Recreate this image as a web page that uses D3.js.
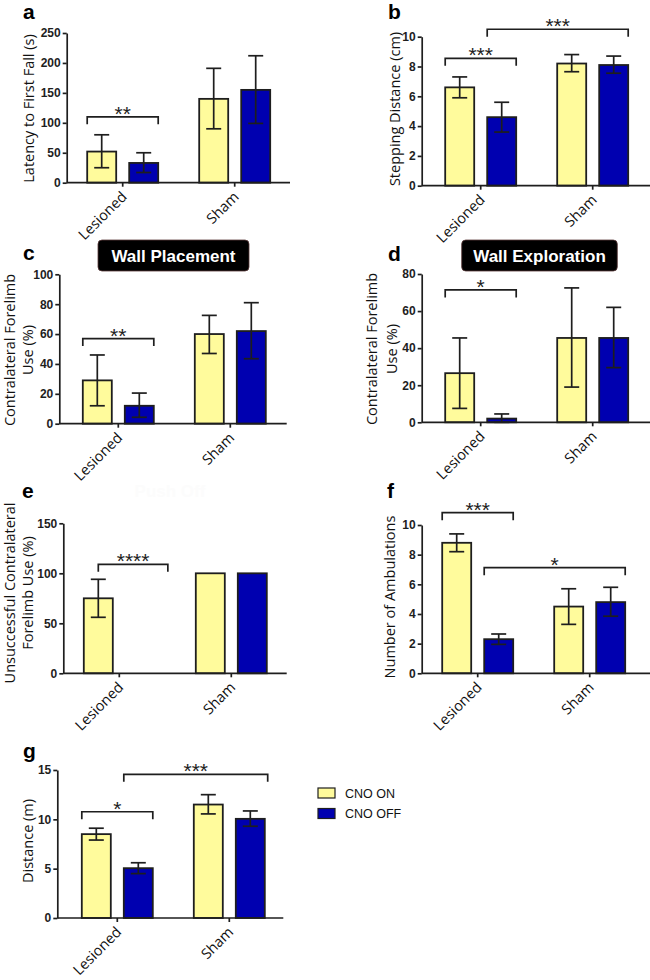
<!DOCTYPE html>
<html>
<head>
<meta charset="utf-8">
<script src="https://cdn.jsdelivr.net/npm/d3@7"></script>
<style>
  body { margin: 0; background: #fff; }
  svg { display: block; }
</style>
</head>
<body>
<svg id="fig" width="650" height="980"></svg>
<script>
const groups = ["Lesioned", "Sham"];
const conditions = ["CNO ON", "CNO OFF"];

// bar order: Lesioned ON, Lesioned OFF, Sham ON, Sham OFF
// a - latency to first fall
const latencyMean = [52, 33, 140, 155];
const latencyLow = [25, 17, 90, 99];
const latencyHigh = [80, 50, 191, 212];
const latencyTicks = [0, 50, 100, 150, 200, 250];

// b - stepping distance
const steppingMean = [6.6, 4.6, 8.2, 8.1];
const steppingLow = [5.9, 3.6, 7.65, 7.55];
const steppingHigh = [7.3, 5.6, 8.8, 8.7];
const steppingTicks = [0, 2, 4, 6, 8, 10];

// c - wall placement
const placementMean = [29, 12, 60, 62];
const placementLow = [12, 4.3, 47, 43.5];
const placementHigh = [46, 20.5, 72.5, 81];
const placementTicks = [0, 20, 40, 60, 80, 100];

// d - wall exploration
const explorationMean = [26.5, 2, 45.5, 45.5];
const explorationLow = [7.5, 0, 19, 29.5];
const explorationHigh = [45.5, 4.5, 72.5, 62];
const explorationTicks = [0, 20, 40, 60, 80];

// e - push off
const pushMean = [75, 0, 100, 100];
const pushLow = [56, 0, 100, 100];
const pushHigh = [94, 0, 100, 100];
const pushTicks = [0, 50, 100, 150];

// f - ambulations
const ambulationMean = [8.8, 2.3, 4.5, 4.8];
const ambulationLow = [8.2, 1.95, 3.3, 3.85];
const ambulationHigh = [9.4, 2.65, 5.7, 5.8];
const ambulationTicks = [0, 2, 4, 6, 8, 10];

// g - distance
const distanceMean = [8.5, 5.05, 11.5, 10.05];
const distanceLow = [7.9, 4.5, 10.55, 9.3];
const distanceHigh = [9.1, 5.6, 12.5, 10.85];
const distanceTicks = [0, 5, 10, 15];

// significance brackets: from/to bar index + position across the bar (0 left, 1 right)
const latencySig = [{from: 0, fromAt: 0, to: 1, toAt: 1, y: 110, label: "**"}];
const steppingSig = [
  {from: 0, fromAt: 0, to: 1, toAt: 1, y: 8.55, label: "***"},
  {from: 1, fromAt: 0, to: 3, toAt: 1, y: 10.5, label: "***"}
];
const placementSig = [{from: 0, fromAt: 0, to: 1, toAt: 1, y: 57, label: "**"}];
const explorationSig = [{from: 0, fromAt: 0, to: 1, toAt: 1, y: 71.4, label: "*"}];
const pushSig = [{from: 0, fromAt: 0.5, to: 1, toAt: 1.45, y: 109, label: "****"}];
const ambulationSig = [
  {from: 0, fromAt: 0, to: 1, toAt: 1, y: 10.83, label: "***"},
  {from: 1, fromAt: 0, to: 3, toAt: 1, y: 7.12, label: "*"}
];
const distanceSig = [
  {from: 0, fromAt: 0, to: 1, toAt: 1, y: 10.77, label: "*"},
  {from: 1, fromAt: 0, to: 3, toAt: 1.1, y: 14.56, label: "***"}
];

const fillColors = ["#FFFB9C", "#0000B0"];
const ink = "#1e1e1e";

const svg = d3.select("#fig");

const panels = [
  {letter: "a", lx: 23, ly: 18.5, mean: latencyMean, low: latencyLow, high: latencyHigh, ticks: latencyTicks, sig: latencySig,
   yMax: 250, left: 66.7, pad: 0, xEnd: 290, bottom: 182.7, top: 33,
   title: ["Latency to First Fall (s)"], tx: [29], ty: 108.5},
  {letter: "b", lx: 388, ly: 18.5, mean: steppingMean, low: steppingLow, high: steppingHigh, ticks: steppingTicks, sig: steppingSig,
   yMax: 10, left: 421.7, pad: 3, xEnd: 650, bottom: 185.7, top: 36.7,
   title: ["Stepping Distance (cm)"], tx: [395], ty: 109},
  {letter: "c", lx: 23, ly: 260, mean: placementMean, low: placementLow, high: placementHigh, ticks: placementTicks, sig: placementSig,
   yMax: 100, left: 59.3, pad: 3, xEnd: 286.7, bottom: 423.7, top: 274.3,
   title: ["Contralateral Forelimb", "Use (%)"], tx: [10, 28], ty: 350,
   box: {text: "Wall Placement", x: 98, y: 240, w: 151, h: 31}},
  {letter: "d", lx: 388, ly: 261, mean: explorationMean, low: explorationLow, high: explorationHigh, ticks: explorationTicks, sig: explorationSig,
   yMax: 80, left: 421.7, pad: 3, xEnd: 650, bottom: 422.3, top: 274,
   title: ["Contralateral Forelimb", "Use (%)"], tx: [371.7, 391.7], ty: 349,
   box: {text: "Wall Exploration", x: 461.7, y: 240, w: 155.6, h: 31}},
  {letter: "e", lx: 22, ly: 498, mean: pushMean, low: pushLow, high: pushHigh, ticks: pushTicks, sig: pushSig,
   yMax: 150, left: 63.3, pad: 0, xEnd: 286.7, bottom: 673.3, top: 523.3,
   title: ["Unsuccessful Contralateral", "Forelimb Use (%)"], tx: [10, 28], ty: 593,
   ghost: {text: "Push Off", x: 170, y: 497}},
  {letter: "f", lx: 387, ly: 498, mean: ambulationMean, low: ambulationLow, high: ambulationHigh, ticks: ambulationTicks, sig: ambulationSig,
   yMax: 10, left: 421.7, pad: 0, xEnd: 650, bottom: 673.3, top: 525,
   title: ["Number of Ambulations"], tx: [390], ty: 597},
  {letter: "g", lx: 23, ly: 758, mean: distanceMean, low: distanceLow, high: distanceHigh, ticks: distanceTicks, sig: distanceSig,
   yMax: 15, left: 57.3, pad: 4, xEnd: 283.3, bottom: 918, top: 770,
   title: ["Distance (m)"], tx: [28], ty: 841}
];

panels.forEach(drawPanel);

function drawPanel(p) {
  const g = svg.append("g");
  const y = d3.scaleLinear().domain([0, p.yMax]).range([p.bottom, p.top]);
  const x0 = d3.scaleBand().domain(groups).range([p.left + p.pad, p.left + p.pad + 224]);
  const x1 = d3.scaleBand().domain(conditions).range([20.5, 91.5]).paddingInner(13 / 42);
  const bw = x1.bandwidth();

  const bars = p.mean.map((v, i) => ({
    group: groups[Math.floor(i / 2)],
    cond: conditions[i % 2],
    ci: i % 2,
    value: v, low: p.low[i], high: p.high[i]
  }));
  const barX = i => x0(bars[i].group) + x1(bars[i].cond);

  // bars
  g.selectAll("rect.bar")
    .data(bars.filter(d => d.value > 0))
    .join("rect")
    .attr("class", "bar")
    .attr("x", d => x0(d.group) + x1(d.cond))
    .attr("y", d => y(d.value))
    .attr("width", bw)
    .attr("height", d => y(0) - y(d.value))
    .attr("fill", d => fillColors[d.ci])
    .attr("stroke", ink)
    .attr("stroke-width", 1.8);

  // error bars
  const eb = g.selectAll("g.err")
    .data(bars.filter(d => d.high > d.low))
    .join("g")
    .attr("class", "err")
    .attr("transform", d => `translate(${x0(d.group) + x1(d.cond) + bw / 2},0)`)
    .attr("stroke", ink)
    .attr("stroke-width", 1.7);
  eb.append("line").attr("y1", d => y(d.low)).attr("y2", d => y(d.high));
  eb.append("line").attr("x1", -7.5).attr("x2", 7.5).attr("y1", d => y(d.high)).attr("y2", d => y(d.high));
  eb.append("line").attr("x1", -7.5).attr("x2", 7.5).attr("y1", d => y(d.low)).attr("y2", d => y(d.low));

  // y axis
  const ya = g.append("g")
    .attr("transform", `translate(${p.left},0)`)
    .call(d3.axisLeft(y).tickValues(p.ticks).tickSize(4).tickSizeOuter(0).tickPadding(2).tickFormat(d3.format("d")));
  ya.selectAll("path, line").attr("stroke", ink).attr("stroke-width", 1.7);
  ya.selectAll("text")
    .attr("fill", ink)
    .attr("font-family", "'Liberation Sans', Arial, sans-serif")
    .attr("font-weight", "bold")
    .attr("font-size", 12);

  // x axis
  const xa = g.append("g")
    .attr("transform", `translate(0,${p.bottom})`)
    .call(d3.axisBottom(x0).tickSize(4).tickSizeOuter(0));
  xa.select(".domain").remove();
  xa.append("line")
    .attr("x1", p.left).attr("x2", p.xEnd)
    .attr("stroke", ink).attr("stroke-width", 1.7);
  xa.selectAll(".tick line").attr("stroke", ink).attr("stroke-width", 1.7);
  xa.selectAll(".tick text")
    .attr("x", 0).attr("y", 0).attr("dy", null)
    .attr("transform", "translate(5,15) rotate(-45)")
    .attr("text-anchor", "end")
    .attr("fill", "#111")
    .attr("font-family", "'Open Sans', sans-serif")
    .attr("font-size", 14.5);

  // brackets
  p.sig.forEach(s => {
    const xa1 = barX(s.from) + s.fromAt * bw;
    const xa2 = barX(s.to) + s.toAt * bw;
    const yy = y(s.y);
    g.append("path")
      .attr("d", `M${xa1},${yy + 7.5}V${yy}H${xa2}V${yy + 7.5}`)
      .attr("fill", "none")
      .attr("stroke", ink)
      .attr("stroke-width", 1.7);
    g.append("text")
      .attr("x", (xa1 + xa2) / 2)
      .attr("y", yy + 4)
      .attr("text-anchor", "middle")
      .attr("font-family", "'Liberation Sans', Arial, sans-serif")
      .attr("font-size", 21)
      .attr("fill", ink)
      .text(s.label);
  });

  // y title
  p.title.forEach((t, i) => {
    g.append("text")
      .attr("transform", `translate(${p.tx[i]},${p.ty}) rotate(-90)`)
      .attr("text-anchor", "middle")
      .attr("dy", "0.35em")
      .attr("font-family", "'Open Sans', sans-serif")
      .attr("font-size", 14.5)
      .attr("fill", "#111")
      .text(t);
  });

  // panel letter
  g.append("text")
    .attr("x", p.lx).attr("y", p.ly)
    .attr("font-family", "'Liberation Sans', Arial, sans-serif")
    .attr("font-weight", "bold")
    .attr("font-size", 21)
    .attr("fill", "#000")
    .text(p.letter);

  if (p.box) {
    g.append("rect")
      .attr("x", p.box.x).attr("y", p.box.y)
      .attr("width", p.box.w).attr("height", p.box.h)
      .attr("rx", 4)
      .attr("fill", "#000")
      .attr("stroke", "#5a3a3a")
      .attr("stroke-width", 0.8);
    g.append("text")
      .attr("x", p.box.x + p.box.w / 2)
      .attr("y", p.box.y + p.box.h / 2)
      .attr("dy", "0.36em")
      .attr("text-anchor", "middle")
      .attr("font-family", "'Liberation Sans', Arial, sans-serif")
      .attr("font-weight", "bold")
      .attr("font-size", 17)
      .attr("fill", "#fff")
      .text(p.box.text);
  }
  if (p.ghost) {
    g.append("text")
      .attr("x", p.ghost.x).attr("y", p.ghost.y)
      .attr("text-anchor", "middle")
      .attr("font-family", "'Liberation Sans', Arial, sans-serif")
      .attr("font-weight", "bold")
      .attr("font-size", 17)
      .attr("fill", "#fcfcfc")
      .text(p.ghost.text);
  }
}

// legend
const legend = svg.append("g").attr("transform", "translate(318,788)");
const li = legend.selectAll("g")
  .data(conditions)
  .join("g")
  .attr("transform", (d, i) => `translate(0,${i * 20.5})`);
li.append("rect")
  .attr("width", 17).attr("height", 10)
  .attr("fill", (d, i) => fillColors[i])
  .attr("stroke", ink)
  .attr("stroke-width", 1.2);
li.append("text")
  .attr("x", 27).attr("y", 5)
  .attr("dy", "0.36em")
  .attr("font-family", "'Liberation Sans', Arial, sans-serif")
  .attr("font-size", 12.5)
  .attr("fill", "#111")
  .text(d => d);
</script>
</body>
</html>
